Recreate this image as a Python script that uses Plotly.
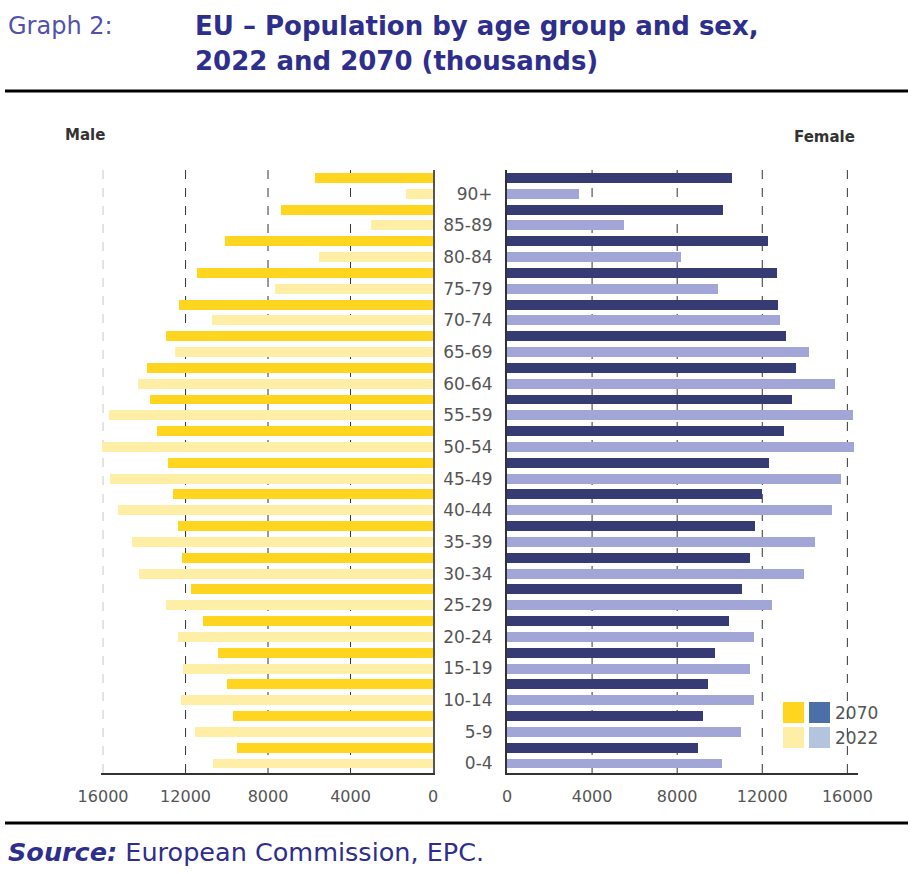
import plotly.graph_objects as go

# ---------------- data (thousands) ----------------
ages = ["0-4", "5-9", "10-14", "15-19", "20-24", "25-29", "30-34", "35-39", "40-44",
        "45-49", "50-54", "55-59", "60-64", "65-69", "70-74", "75-79", "80-84", "85-89", "90+"]
male_2022 = [10650, 11550, 12200, 12100, 12350, 12950, 14250, 14600, 15300, 15650,
             16050, 15700, 14300, 12500, 10700, 7650, 5550, 3000, 1300]
male_2070 = [9500, 9700, 10000, 10450, 11150, 11750, 12150, 12350, 12600, 12850,
             13400, 13700, 13850, 12950, 12300, 11450, 10100, 7350, 5700]
female_2022 = [10100, 11000, 11600, 11400, 11600, 12450, 13950, 14500, 15300, 15700,
               16300, 16250, 15400, 14200, 12850, 9900, 8200, 5500, 3400]
female_2070 = [9000, 9200, 9450, 9800, 10450, 11050, 11400, 11650, 12000, 12300,
               13000, 13400, 13600, 13100, 12750, 12700, 12250, 10150, 10600]
tick_vals = [0, 4000, 8000, 12000, 16000]
tick_text = ["0", "4000", "8000", "12000", "16000"]

# slot positions: 2022 bar on the label line, 2070 bar just above it
pos_2022 = [2 * i for i in range(len(ages))]
pos_2070 = [2 * i + 1 for i in range(len(ages))]

C_M70, C_M22 = "#FFD520", "#FFEEA6"
C_F70, C_F22 = "#363B73", "#A1A6D6"
TXT = "#555555"
BLUE = "#2E2E8C"
FONT = "DejaVu Sans, Verdana, sans-serif"

W, H = 914, 874
BAR_W = 0.63

fig = go.Figure()
fig.add_trace(go.Bar(y=pos_2070, x=male_2070, orientation="h", width=BAR_W,
                     marker=dict(color=C_M70, line_width=0), xaxis="x", yaxis="y",
                     name="Male 2070", showlegend=False))
fig.add_trace(go.Bar(y=pos_2022, x=male_2022, orientation="h", width=BAR_W,
                     marker=dict(color=C_M22, line_width=0), xaxis="x", yaxis="y",
                     name="Male 2022", showlegend=False))
fig.add_trace(go.Bar(y=pos_2070, x=female_2070, orientation="h", width=BAR_W,
                     marker=dict(color=C_F70, line_width=0), xaxis="x2", yaxis="y2",
                     name="Female 2070", showlegend=False))
fig.add_trace(go.Bar(y=pos_2022, x=female_2022, orientation="h", width=BAR_W,
                     marker=dict(color=C_F22, line_width=0), xaxis="x2", yaxis="y2",
                     name="Female 2022", showlegend=False))

y_top = 1 - 170 / H
y_bot = 1 - 773 / H
yrange = [-0.6, 37.5]

axis_font = dict(family=FONT, size=16, color=TXT)

fig.update_layout(
    width=W, height=H, autosize=False,
    margin=dict(l=0, r=0, t=0, b=0, autoexpand=False),
    paper_bgcolor="white", plot_bgcolor="white",
    barmode="overlay", bargap=0,
    font=axis_font,
    xaxis=dict(domain=[101 / W, 433 / W], range=[16100, 0], anchor="y",
               tickvals=tick_vals, ticktext=tick_text, tickfont=axis_font,
               showgrid=False, zeroline=False, showline=True,
               linecolor="#333333", linewidth=2, automargin=False,
               ticks="", ticklabelstandoff=8),
    yaxis=dict(domain=[y_bot, y_top], range=yrange, anchor="x", side="right",
               showticklabels=False, showgrid=False, zeroline=False, automargin=False,
               showline=True, linecolor="#555555", linewidth=2, ticks=""),
    xaxis2=dict(domain=[507 / W, 858 / W], range=[0, 16500], anchor="y2",
                tickvals=tick_vals, ticktext=tick_text, tickfont=axis_font,
                showgrid=False, zeroline=False, showline=True,
                linecolor="#333333", linewidth=2, automargin=False,
                ticks="", ticklabelstandoff=8),
    yaxis2=dict(domain=[y_bot, y_top], range=yrange, anchor="x2",
                tickvals=pos_2022, ticktext=ages, tickfont=dict(axis_font, size=17),
                showgrid=False, zeroline=False, showline=True, automargin=False,
                linecolor="#333333", linewidth=2, ticks="", ticklabelstandoff=9),
)

# dashed vertical gridlines at the tick values (drawn below the bars)
for v in tick_vals[1:]:
    fig.add_shape(type="line", xref="x", yref="y domain", x0=v, x1=v, y0=0, y1=1,
                  layer="below",
                  line=dict(color="#C8C8C8" if v == 16000 else "#333333", width=1, dash="dash"))
    fig.add_shape(type="line", xref="x2", yref="y2 domain", x0=v, x1=v, y0=0, y1=1,
                  layer="below", line=dict(color="#333333", width=1, dash="dash"))

# header / footer rules
for yy in (91, 823):
    fig.add_shape(type="line", xref="paper", yref="paper", x0=5 / W, x1=908 / W,
                  y0=1 - yy / H, y1=1 - yy / H, line=dict(color="black", width=3))


def ann(text, x, y, size, color, xanchor="left", family=FONT, weight=None):
    f = dict(family=family, size=size, color=color)
    if weight is not None:
        f["weight"] = weight
    fig.add_annotation(text=text, xref="paper", yref="paper", x=x / W, y=1 - y / H,
                       xanchor=xanchor, yanchor="middle", showarrow=False, font=f)


ann("Graph 2:", 6, 26, 24, "#5252AA")
ann("<b>EU – Population by age group and sex,</b>", 193, 26, 26, BLUE)
ann("<b>2022 and 2070 (thousands)</b>", 193, 61, 26, BLUE)
ann("<b>Male</b>", 63, 135, 15, "#333333")
ann("<b>Female</b>", 792, 137, 15, "#333333")
ann("<b><i>Source:</i></b> European Commission, EPC.", 6, 852, 25.5, BLUE)

# legend (2x2 swatch grid)
sw = [(783, 702, C_M70), (809, 702, "#4D6FA8"), (783, 727, C_M22), (809, 727, "#B3C5DE")]
for x0, y0, col in sw:
    fig.add_shape(type="rect", xref="paper", yref="paper",
                  x0=x0 / W, x1=(x0 + 21) / W, y0=1 - y0 / H, y1=1 - (y0 + 21) / H,
                  fillcolor=col, line_width=0)
ann("2070", 833, 713, 17, TXT)
ann("2022", 833, 738, 17, TXT)

fig.write_html("out.html")
